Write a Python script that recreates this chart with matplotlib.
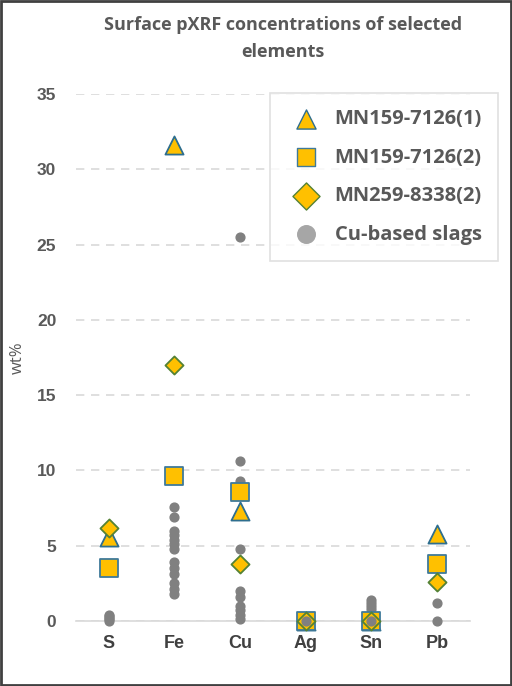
import numpy as np
import matplotlib.pyplot as plt
from matplotlib.patches import Rectangle

plt.rcParams['font.family'] = ['Open Sans', 'DejaVu Sans']

elements = ["S", "Fe", "Cu", "Ag", "Sn", "Pb"]

# one value per element
mn159_1 = [5.6, 31.6, 7.3, 0.0, 0.0, 5.8]
mn159_2 = [3.5, 9.6, 8.6, 0.0, 0.0, 3.8]
mn259_2 = [6.2, 17.0, 3.8, 0.0, 0.0, 2.6]

# Cu-based slags, several readings per element
slag_S = [0.0, 0.1, 0.2, 0.3, 0.4]
slag_Fe = [7.6, 6.9, 6.0, 5.7, 5.4, 5.1, 4.8, 3.9, 3.5, 3.1, 2.5, 2.1, 1.8]
slag_Cu = [25.5, 10.6, 9.3, 4.8, 2.0, 1.6, 1.0, 0.7, 0.4, 0.1]
slag_Ag = [0.0, 0.05]
slag_Sn = [1.4, 1.2, 1.0, 0.8, 0.3, 0.0]
slag_Pb = [1.2, 0.0]
slags = [slag_S, slag_Fe, slag_Cu, slag_Ag, slag_Sn, slag_Pb]

gold = "#FFC000"
grey_txt = "#595959"
arial = ['Liberation Sans', 'DejaVu Sans']

fig = plt.figure(figsize=(5.12, 6.86), dpi=100)
ax = fig.add_axes([0.148, 0.0948, 0.77, 0.768])

x = np.arange(len(elements))
for i, vals in enumerate(slags):
    ax.scatter([x[i]] * len(vals), vals, s=40, color="#808080", zorder=3, clip_on=False)

ax.scatter(x, mn159_1, marker="^", s=170, color=gold, edgecolor="#2E6E8E", linewidth=1.3,
           zorder=4, clip_on=False)
ax.scatter(x, mn159_2, marker="s", s=175, color=gold, edgecolor="#3F7A9A", linewidth=1.3,
           zorder=4, clip_on=False)
ax.scatter(x, mn259_2, marker="D", s=85, color=gold, edgecolor="#548235", linewidth=1.3,
           zorder=5, clip_on=False)
# slags drawn above for Ag/Sn as in the original
ax.scatter([x[3], x[4]], [slag_Ag[0], slag_Sn[-1]], s=40, color="#808080", zorder=6,
           clip_on=False)

ax.set_xlim(-0.5, 5.5)
ax.set_ylim(0, 35)
ax.set_yticks(np.arange(0, 36, 5))
ax.set_xticks(x)
ax.set_xticklabels(elements, fontsize=13, fontweight="bold", color="#404040", family=arial)
ax.tick_params(axis="y", length=0, pad=14)
ax.tick_params(axis="x", length=0, pad=10)
for lbl in ax.get_yticklabels():
    lbl.set_fontweight("bold")
    lbl.set_fontsize(12.5)
    lbl.set_color(grey_txt)
    lbl.set_family(arial)

ax.yaxis.grid(True, linestyle=(0, (5, 4)), color="#D9D9D9", linewidth=1.2)
ax.set_axisbelow(True)
for sp in ["top", "right", "left"]:
    ax.spines[sp].set_visible(False)
ax.spines["bottom"].set_color("#D9D9D9")
ax.spines["bottom"].set_linewidth(1.2)

ax.set_ylabel("wt%", fontsize=12, color=grey_txt, labelpad=8)
fig.text(0.553, 0.963, "Surface pXRF concentrations of selected", ha="center", va="center",
         fontsize=13, fontweight="bold", color=grey_txt)
fig.text(0.553, 0.924, "elements", ha="center", va="center",
         fontsize=13, fontweight="bold", color=grey_txt)

h1 = ax.scatter([], [], marker="^", s=190, color=gold, edgecolor="#2E6E8E", linewidth=1.0)
h2 = ax.scatter([], [], marker="s", s=180, color=gold, edgecolor="#3F7A9A", linewidth=1.0)
h3 = ax.scatter([], [], marker="D", s=190, color=gold, edgecolor="#548235", linewidth=1.0)
h4 = ax.scatter([], [], s=160, color="#A6A6A6")
leg = ax.legend([h1, h2, h3, h4],
                ["MN159-7126(1)", "MN159-7126(2)", "MN259-8338(2)", "Cu-based slags"],
                loc="upper right", bbox_to_anchor=(1.071, 1.002), borderaxespad=0,
                frameon=True, fancybox=False,
                edgecolor="#D9D9D9", labelspacing=0.92, handletextpad=0.4,
                borderpad=0.8, prop={"size": 14.5, "weight": "bold"})
for t in leg.get_texts():
    t.set_color(grey_txt)
leg.get_frame().set_linewidth(1.2)
leg.set_zorder(10)

fig.patches.append(Rectangle((0.002, 0.002), 0.996, 0.996, transform=fig.transFigure,
                             fill=False, edgecolor="#404040", linewidth=2))

fig.savefig("out.png", dpi=100)
